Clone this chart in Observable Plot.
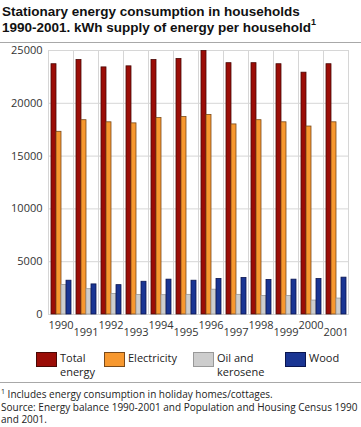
<!DOCTYPE html>
<html><head><meta charset="utf-8">
<script src="https://cdn.jsdelivr.net/npm/d3@7"></script>
<script src="https://cdn.jsdelivr.net/npm/@observablehq/plot@0.6"></script>
<style>
body{margin:0;width:361px;height:427px;position:relative;background:#fff;font-family:"Open Sans",sans-serif;color:#222;overflow:hidden}
.title{position:absolute;left:2px;font-weight:bold;font-size:13.5px;line-height:15px;color:#111;white-space:nowrap;font-family:"Liberation Sans",Arial,sans-serif}
.title sup{font-size:9px;vertical-align:top;line-height:9px;position:relative;top:-2px}
.rule{position:absolute;left:0;width:361px;height:1px;background:#a8a8a8}
#chart{position:absolute;left:0;top:36px}
.sw{position:absolute;width:19px;height:13px;border:1px solid #777}
.lt{position:absolute;font-size:11px;line-height:14px;color:#222}
#foot{position:absolute;left:1px;top:388px;font-size:10px;line-height:12.5px;color:#222;white-space:nowrap}
#foot sup{font-size:7px;vertical-align:top;line-height:7px}
</style></head>
<body>
<div class="title" style="top:4px">Stationary energy consumption in households</div>
<div class="title" style="top:20px">1990-2001. kWh supply of energy per household<sup>1</sup></div>
<div class="rule" style="top:42px"></div>
<div id="chart"></div>
<div id="legend"></div>
<div class="rule" style="top:382px"></div>
<div id="foot"><sup>1</sup> Includes energy consumption in holiday homes/cottages.<br>Source: Energy balance 1990-2001 and Population and Housing Census 1990<br>and 2001.</div>
<script>
const years = [1990,1991,1992,1993,1994,1995,1996,1997,1998,1999,2000,2001];
const series = ["Total energy","Electricity","Oil and kerosene","Wood"];
const legendLines = [["Total","energy"],["Electricity"],["Oil and","kerosene"],["Wood"]];
const total = [23700,24100,23400,23500,24100,24200,24950,23800,23800,23700,22900,23700];
const electricity = [17300,18400,18200,18100,18600,18700,18900,18000,18400,18200,17800,18200];
const oil = [2800,2400,1950,1850,1830,1860,2350,1860,1760,1760,1320,1510];
const wood = [3200,2850,2780,3100,3300,3200,3370,3460,3270,3300,3360,3490];
const yTicks = [0,5000,10000,15000,20000,25000];
const fills = ["#9b0d07","#f7982f","#cdcdcd","#1a3593"];
const strokes = ["#4a0805","#7a4a1a","#999999","#0a1550"];

const values = [total, electricity, oil, wood];
const data = years.flatMap((y,i)=>series.map((s,j)=>({year:y, series:s, value:values[j][i]})));

const chart = Plot.plot({
  width:361, height:304,
  marginTop:14, marginBottom:26, marginLeft:42, marginRight:8,
  style:{fontFamily:"'Open Sans',sans-serif", fontSize:"11px", color:"#333", background:"transparent"},
  fx:{domain:years, padding:0, label:null, axis:null},
  x:{domain:series, axis:null, paddingInner:0.06, paddingOuter:0.12},
  y:{domain:[0,25000], label:null, axis:null},
  marks:[
    Plot.gridY(yTicks,{stroke:"#d6d6d6", strokeOpacity:1}),
    Plot.frame({stroke:"#d6d6d6"}),
    ...series.map((s,j)=>Plot.barY(data.filter(d=>d.series===s),{
      fx:"year", x:"series", y:"value", fill:fills[j], stroke:strokes[j], strokeWidth:0.8
    })),
    Plot.axisY(yTicks,{tickSize:0, tickPadding:6, label:null, fill:"#333", tickFormat:d=>String(d)}),
    Plot.text(years.filter((y,i)=>i%2===0),{fx:d=>d, text:d=>String(d), frameAnchor:"bottom", lineAnchor:"top", dy:7, fill:"#333"}),
    Plot.text(years.filter((y,i)=>i%2===1),{fx:d=>d, text:d=>String(d), frameAnchor:"bottom", lineAnchor:"top", dy:14, fill:"#333"})
  ]
});
document.getElementById("chart").appendChild(chart);

const swX = [36,104,193,285];
const lg = document.getElementById("legend");
series.forEach((s,j)=>{
  const sw = document.createElement("div");
  sw.className="sw"; sw.style.left=swX[j]+"px"; sw.style.top="352px"; sw.style.background=fills[j];
  sw.style.borderColor = j===2 ? "#999" : strokes[j];
  lg.appendChild(sw);
  const t = document.createElement("div");
  t.className="lt"; t.style.left=(swX[j]+24)+"px"; t.style.top="351px";
  t.innerHTML = legendLines[j].join("<br>");
  lg.appendChild(t);
});
</script>
</body></html>
